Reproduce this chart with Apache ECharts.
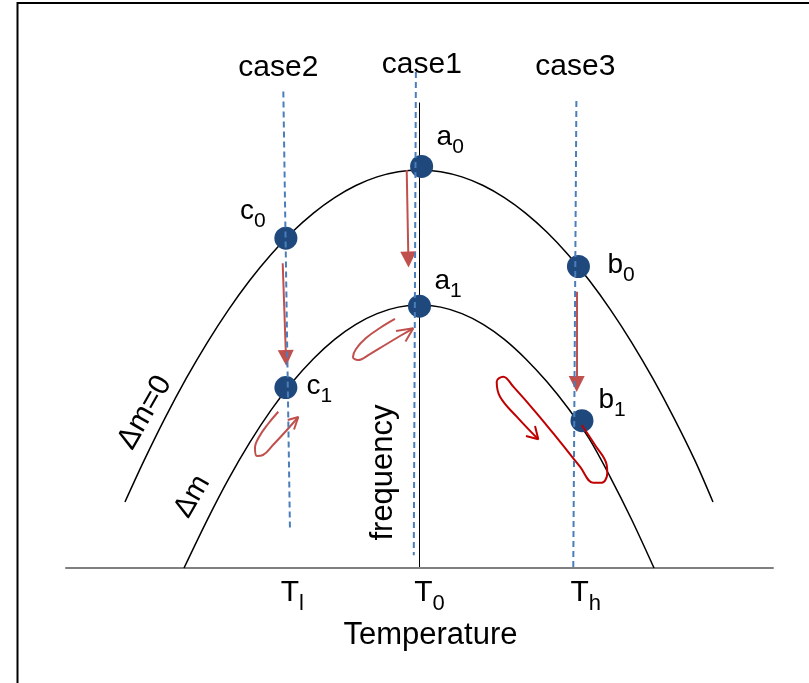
<!DOCTYPE html>
<html><head><meta charset="utf-8">
<script src="https://cdn.jsdelivr.net/npm/echarts@6/dist/echarts.min.js"></script>
<style>html,body{margin:0;padding:0;background:#fff}#c{width:809px;height:683px}</style>
</head><body><div id="c"></div>
<script>
// ---- data (temperature offset from T0, frequency) ----
const upperX = [-41.66, -39, -36, -33, -30, -27, -24, -21, -18, -15, -12, -9, -6, -3, 0, 3, 6, 9, 12, 15, 18, 21, 24, 27, 30, 33, 36, 39, 41.51];
const upperY = [14.19, 22.97, 32.23, 40.76, 48.54, 55.58, 61.88, 67.43, 72.25, 76.33, 79.66, 82.26, 84.11, 85.22, 85.59, 85.22, 84.11, 82.26, 79.66, 76.33, 72.25, 67.43, 61.88, 55.58, 48.54, 40.76, 32.23, 22.97, 14.19];
const lowerX = [-33.31, -30, -27, -24, -21, -18, -15, -12, -9, -6, -3, 0, 3, 6, 9, 12, 15, 18, 21, 24, 27, 30, 33.17];
const lowerY = [0, 10.42, 19.18, 27.03, 33.95, 39.95, 45.02, 49.18, 52.41, 54.71, 56.10, 56.56, 56.10, 54.71, 52.41, 49.18, 45.02, 40.10, 34.40, 27.80, 19.50, 10.42, 0];

const dotNames = ['a0', 'c0', 'b0', 'a1', 'c1', 'b1'];
const dotX = [0.30, -18.90, 22.48, 0, -18.90, 22.98];
const dotY = [86.37, 70.92, 64.84, 56.30, 38.80, 31.68];

const caseNames = ['case2', 'case1', 'case3'];
const caseTopX = [-19.26, -0.51, 22.19];
const caseTopY = [102.47, 106.69, 100.43];
const caseBotX = [-18.32, -0.81, 21.75];
const caseBotY = [8.06, 2.73, 0];

const arrowFromX = [-19.35, -1.81, 22.23];
const arrowFromY = [65.53, 85.59, 59.42];
const arrowToX = [-18.88, -1.57, 22.23];
const arrowToY = [45.16, 66.34, 39.57];

const loopAX = [-19.97, -21.43, -22.70, -23.27, -22.98, -22.14, -20.72, -18.88, -17.14];
const loopAY = [33.60, 30.97, 28.17, 25.81, 24.09, 24.30, 26.45, 29.46, 32.47];
const headAX = [-18.64, -17.14, -17.75];
const headAY = [31.83, 32.47, 29.78];

const loopBX = [-3.47, -5.59, -7.57, -8.98, -9.41, -8.70, -7.00, -4.88, -2.76, -0.88];
const loopBY = [53.55, 51.61, 49.46, 47.10, 45.38, 44.73, 46.02, 47.96, 49.89, 51.55];
const headBX = [-3.32, -0.88, -1.98];
const headBY = [50.97, 51.55, 48.71];

const loopCX = [22.94, 24.82, 26.48, 26.56, 25.77, 24.58, 22.70, 19.87, 16.58, 13.27, 11.85, 10.92, 11.39, 13.75, 16.80];
const loopCY = [30.75, 26.45, 22.15, 20.37, 18.34, 18.34, 21.78, 27.16, 33.27, 38.99, 41.14, 40.06, 36.84, 32.54, 27.68];
const headCX = [15.06, 16.80, 16.34];
const headCY = [28.39, 27.68, 30.54];

const tickValues = [-19.4, 0, 22.1];
const tickSubs = ['l', '0', 'h'];

const noteText = ['case2', 'case1', 'case3', 'Δm=0', 'Δm', 'frequency'];
const noteX = [-19.96, 0.33, 22.04, -38.83, -32.14, -5.16];
const noteY = [107.63, 108.13, 107.85, 33.44, 15.38, 20.54];

// ---- styles ----
const FONT = "'Liberation Sans', Arial, sans-serif";
const noteStyle = [
  {rotate: 0, size: 30}, {rotate: 0, size: 30}, {rotate: 0, size: 30},
  {rotate: 60, size: 30}, {rotate: 60, size: 29}, {rotate: 90, size: 31}
];
const dotLabelOffset = {
  a0: [15, -29], c0: [-46, -27], b0: [29, -1], a1: [15, -25], c1: [20.5, -1.6], b1: [16.5, -20.7]
};
const RED = '#c0504d', DARKRED = '#c00000', BLUE = '#4a7ebb', DOT = '#1f497d';

const zip = (xs, ys) => xs.map((x, i) => [x, ys[i]]);

function lineSeries(xs, ys, color, width, extra) {
  return Object.assign({
    type: 'line', data: zip(xs, ys), showSymbol: false, symbol: 'none', clip: false,
    lineStyle: {color: color, width: width}, silent: true, animation: false
  }, extra || {});
}

const series = [];
series.push(lineSeries(upperX, upperY, '#000', 1.5, {smooth: 0.3, z: 2}));
series.push(lineSeries(lowerX, lowerY, '#000', 1.5, {smooth: 0.3, z: 2}));

series.push({
  type: 'scatter', z: 3, clip: false, animation: false, symbolSize: 23, silent: true,
  itemStyle: {color: DOT, opacity: 1},
  data: dotNames.map((n, i) => ({
    value: [dotX[i], dotY[i]],
    label: {
      show: true, position: 'inside', align: 'left', verticalAlign: 'middle',
      offset: dotLabelOffset[n],
      formatter: '{m|' + n.charAt(0) + '}{s|' + n.charAt(1) + '}',
      rich: {
        m: {fontSize: 28, fontFamily: FONT, color: '#000'},
        s: {fontSize: 21, fontFamily: FONT, color: '#000', padding: [20, 0, 0, 0]}
      }
    }
  }))
});

// red straight arrows
series.push({
  type: 'lines', coordinateSystem: 'cartesian2d', z: 4, clip: false, animation: false, silent: true,
  symbol: ['none', 'triangle'], symbolSize: 16,
  lineStyle: {color: RED, width: 2, opacity: 1, curveness: 0},
  itemStyle: {color: RED},
  data: arrowFromX.map((x, i) => ({coords: [[x, arrowFromY[i]], [arrowToX[i], arrowToY[i]]]}))
});

// loops with open arrowheads
series.push(lineSeries(loopAX, loopAY, RED, 2, {smooth: 0.4, z: 4}));
series.push(lineSeries(headAX, headAY, RED, 2, {z: 4}));
series.push(lineSeries(loopBX, loopBY, RED, 2, {smooth: 0.4, z: 4}));
series.push(lineSeries(headBX, headBY, RED, 2, {z: 4}));
series.push(lineSeries(loopCX, loopCY, DARKRED, 2, {smooth: 0.4, z: 4}));
series.push(lineSeries(headCX, headCY, DARKRED, 2, {z: 4}));

// dashed case lines
caseNames.forEach((n, i) => {
  series.push(lineSeries([caseTopX[i], caseBotX[i]], [caseTopY[i], caseBotY[i]], BLUE, 2,
    {z: 5, lineStyle: {color: BLUE, width: 2, type: [6, 4]}}));
});

// text annotations
series.push({
  type: 'scatter', z: 6, clip: false, animation: false, symbol: 'circle', symbolSize: 0, silent: true,
  itemStyle: {color: 'transparent', opacity: 1},
  data: noteText.map((t, i) => ({
    value: [noteX[i], noteY[i]],
    label: {
      show: true, position: 'inside', align: 'center', verticalAlign: 'middle', opacity: 1,
      formatter: '{n|' + t + '}', rotate: noteStyle[i].rotate,
      rich: {n: {fontSize: noteStyle[i].size, fontFamily: FONT, color: '#000'}}
    }
  }))
});

const chart = echarts.init(document.getElementById('c'));
chart.setOption({
  animation: false,
  backgroundColor: '#fff',
  grid: {left: 66, right: 36, top: 103, bottom: 115},
  graphic: [{
    type: 'rect', shape: {x: 17.5, y: 3, width: 1000, height: 1000},
    style: {fill: 'none', stroke: '#000', lineWidth: 2}, silent: true, z: 0
  }],
  xAxis: {
    type: 'value', min: -50, max: 50,
    axisLine: {show: true, onZero: true, lineStyle: {color: '#808080', width: 2}},
    axisTick: {show: false}, splitLine: {show: false},
    axisLabel: {
      show: true, customValues: tickValues, margin: 2, align: 'center', padding: [0, 0, 0, 20],
      formatter: function (v) {
        const i = tickValues.findIndex(t => Math.abs(t - v) < 1e-6);
        return i < 0 ? '' : '{t|T}{s|' + tickSubs[i] + '}';
      },
      rich: {
        t: {fontSize: 30, fontFamily: FONT, color: '#000'},
        s: {fontSize: 22, fontFamily: FONT, color: '#000', padding: [23, 0, 0, 0]}
      }
    },
    name: 'Temperature', nameLocation: 'middle', nameGap: 52,
    nameTextStyle: {fontSize: 31, fontFamily: FONT, color: '#000', padding: [0, 0, 0, 22]}
  },
  yAxis: {
    type: 'value', min: 0, max: 100,
    axisLine: {show: true, onZero: true, lineStyle: {color: '#000', width: 1}},
    axisTick: {show: false}, axisLabel: {show: false}, splitLine: {show: false}
  },
  series: series
});
</script>
</body></html>
